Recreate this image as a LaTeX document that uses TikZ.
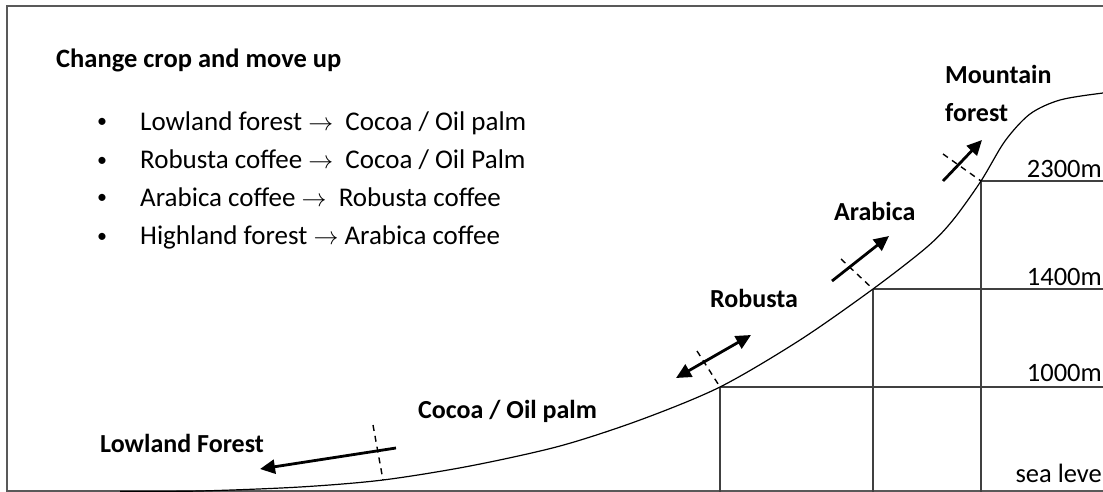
\documentclass[tikz,border=0pt]{standalone}
\usepackage{fontspec}
\setmainfont{Carlito}
\usetikzlibrary{arrows.meta}
\begin{document}
\begin{tikzpicture}[x=1pt,y=-1pt,
  frame/.style={draw=black!65, line width=1.6pt},
  gridline/.style={draw=black!75, line width=1.5pt},
  slope/.style={draw=black, line width=1.2pt},
  sep/.style={draw=black, line width=1.4pt, dash pattern=on 6pt off 5pt},
  move/.style={draw=black, line width=2.8pt, -{Triangle[length=15pt,width=14pt]}},
  both/.style={draw=black, line width=2.8pt, {Triangle[length=15pt,width=14pt]}-{Triangle[length=15pt,width=14pt]}},
  titletext/.style={font=\fontsize{26.5}{30}\selectfont\bfseries, anchor=base west, inner sep=0pt},
  itemtext/.style={font=\fontsize{27}{30}\selectfont, anchor=base west, inner sep=0pt},
  dottext/.style={font=\fontsize{20}{24}\selectfont, anchor=base, inner sep=0pt},
  zonetext/.style={font=\fontsize{26}{30}\selectfont\bfseries, anchor=base west, inner sep=0pt},
  alttext/.style={font=\fontsize{26.5}{30}\selectfont, anchor=base east, inner sep=0pt},
]
\useasboundingbox (0,0) rectangle (1103,492);
\clip (0,0) rectangle (1103,492);
\fill[white] (0,0) rectangle (1103,492);

% frame
\draw[frame] (1110,6) -- (7,6) -- (7,491) -- (1110,491);

% list
\node[titletext] (title) at (56,67.5) {Change crop and move up};
\node[dottext] (b1) at (102,128) {•};
\node[dottext] (b2) at (102,166) {•};
\node[dottext] (b3) at (102,204) {•};
\node[dottext] (b4) at (102,242) {•};
\node[itemtext] (i1) at (140,130.5) {Lowland forest $\rightarrow$\ \ Cocoa / Oil palm};
\node[itemtext] (i2) at (140,168.5) {Robusta coffee $\rightarrow$\ \ Cocoa / Oil Palm};
\node[itemtext] (i3) at (140,206.5) {Arabica coffee $\rightarrow$\ \ Robusta coffee};
\node[itemtext] (i4) at (140,244.5) {Highland forest $\rightarrow$ Arabica coffee};

% junction points on the slope
\coordinate (j1) at (720,387);
\coordinate (j2) at (873,289);
\coordinate (j3) at (981,181);

% altitude grid
\draw[gridline] (j1) -- (1110,387);
\draw[gridline] (j2) -- (1110,289);
\draw[gridline] (j3) -- (1110,181);
\draw[gridline] (j1) -- (720,492);
\draw[gridline] (j2) -- (873,492);
\draw[gridline] (j3) -- (981,492);

% slope
\draw[slope] plot[smooth, tension=0.5] coordinates {(120,491.5) (200,491) (300,487) (383,480) (470,466) (560,446) (640,420) (720,387) (800,340) (873,289) (927,247) (953,220) (981,181) (1005,141) (1030,114) (1060,100) (1103,93) (1120,92)};

% altitude labels
\node[alttext] (a1) at (1102,178) {2300m};
\node[alttext] (a2) at (1102,285) {1400m};
\node[alttext] (a3) at (1102,381) {1000m};
\node[alttext] (a4) at (1102,482) {sea leve};

% zone labels
\node[zonetext] (z1) at (945,84) {Mountain};
\node[zonetext] (z2) at (945,122) {forest};
\node[zonetext] (z3) at (834,220) {Arabica};
\node[zonetext] (z4) at (710,307) {Robusta};
\node[zonetext] (z5) at (418,418) {Cocoa / Oil palm};
\node[zonetext] (z6) at (100,452) {Lowland Forest};

% boundaries and moves
\coordinate (d1a) at (373,425); \coordinate (d1b) at (383,480);
\coordinate (m1a) at (396,448); \coordinate (m1b) at (260,469);
\draw[sep] (d1a) -- (d1b);
\draw[move] (m1a) -- (m1b);

\coordinate (d2a) at (697,351); \coordinate (d2b) at (j1);
\coordinate (m2a) at (676,378); \coordinate (m2b) at (751,335);
\draw[sep] (d2a) -- (d2b);
\draw[both] (m2a) -- (m2b);

\coordinate (d3a) at (841,259); \coordinate (d3b) at (j2);
\coordinate (m3a) at (832,281); \coordinate (m3b) at (889,236);
\draw[sep] (d3a) -- (d3b);
\draw[move] (m3a) -- (m3b);

\coordinate (d4a) at (943,154); \coordinate (d4b) at (j3);
\coordinate (m4a) at (943,181); \coordinate (m4b) at (982,140);
\draw[sep] (d4a) -- (d4b);
\draw[move] (m4a) -- (m4b);
\end{tikzpicture}
\end{document}
